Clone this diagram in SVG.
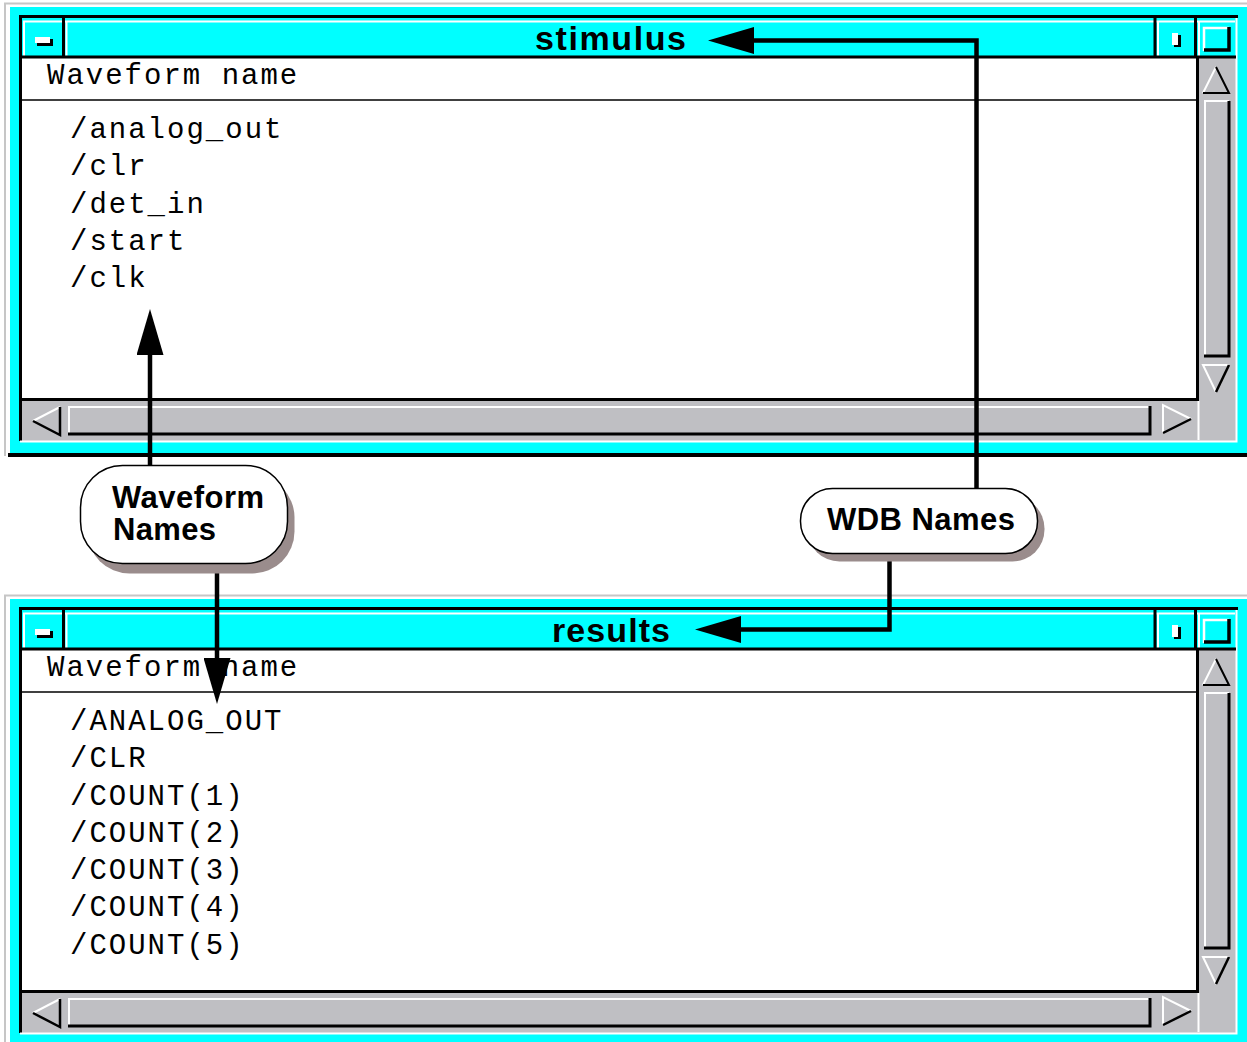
<svg xmlns="http://www.w3.org/2000/svg" xmlns:xlink="http://www.w3.org/1999/xlink" width="1247" height="1042" viewBox="0 0 1247 1042">
<style>
.mono{font-family:"Liberation Mono","DejaVu Sans Mono",monospace;font-size:29px;letter-spacing:2px;fill:#000}
.ttl{font-family:"Liberation Sans",Arial,sans-serif;font-weight:bold;font-size:34px;fill:#000}
.bub{font-family:"Liberation Sans",Arial,sans-serif;font-weight:bold;font-size:31px;fill:#000}
.blk{stroke:#000;fill:none}
.wht{stroke:#fff;fill:none}
.conn{stroke:#000;stroke-width:4.5;fill:none;marker-end:url(#arr)}
</style>
<defs>
<marker id="arr" markerUnits="userSpaceOnUse" viewBox="0 0 46 27" markerWidth="46" markerHeight="27" refX="0" refY="13.5" orient="auto">
<path d="M0,0 L46,13.5 L0,27 z" fill="#000"/>
</marker>
<g id="chrome">
<path d="M5,456 V3.5 H1247" fill="none" stroke="#c6c6c6" stroke-width="2"/>
<rect x="10" y="7" width="1237" height="447" fill="#00ffff"/>
<rect x="8" y="453" width="1239" height="4" fill="#000"/>
<rect x="22" y="58" width="1176" height="342" fill="#fff"/>
<rect x="1198" y="58" width="38" height="383" fill="#bfbfc3"/>
<rect x="22" y="400" width="1214" height="41" fill="#bfbfc3"/>
<path class="blk" d="M20.5,441 V16.5 H1238" stroke-width="3"/>
<path class="wht" d="M20,441.5 H1236.5 V18" stroke-width="2"/>
<path class="wht" d="M23,21.5 H1235 M24,21 V56 M66.5,21 V56 M1158,21 V56 M1199,21 V56" stroke-width="2"/>
<path class="blk" d="M63.5,18 V58 M1155,18 V58 M1195.5,18 V58 M22,57 H1236" stroke-width="3"/>
<rect x="37" y="39" width="16" height="7" fill="#000"/>
<rect x="35" y="37" width="15" height="6" fill="#fff"/>
<rect x="1174" y="35" width="7" height="12" fill="#000"/>
<rect x="1172" y="33" width="6" height="12" fill="#fff"/>
<path class="wht" d="M1204,51 V28 H1229" stroke-width="2.5"/>
<path class="blk" d="M1229,27 V50 H1204" stroke-width="3.5"/>
<path class="blk" d="M22,100 H1197" stroke-width="1.5"/>
<path class="blk" d="M1197.5,58 V401 M20,399.5 H1199" stroke-width="3"/>
<path class="wht" d="M1198.5,401 V440" stroke-width="2"/>
<path class="wht" d="M1203,93 L1216,67" stroke-width="2"/>
<path class="blk" d="M1216,67 L1229,93 H1203" stroke-width="2"/>
<path class="wht" d="M1205,356 V101 H1229" stroke-width="2"/>
<path class="blk" d="M1229,101 V356 H1204" stroke-width="3"/>
<path class="wht" d="M1216,392 L1203,365 H1229" stroke-width="2"/>
<path class="blk" d="M1229,365 L1216,392" stroke-width="2.5"/>
<path class="wht" d="M33,421 L60,407" stroke-width="2"/>
<path class="blk" d="M33,421 L60,435 V407" stroke-width="2.5"/>
<path class="wht" d="M69,434 V407 H1150" stroke-width="2"/>
<path class="blk" d="M1150,406 V434 H68" stroke-width="3"/>
<path class="wht" d="M1163,433 V405 L1191,419" stroke-width="2"/>
<path class="blk" d="M1191,419 L1163,433" stroke-width="2.5"/>
</g>
</defs>
<rect width="1247" height="1042" fill="#fff"/>
<g id="win-stimulus">
<use xlink:href="#chrome" href="#chrome"/>
<text class="ttl" x="535" y="50" textLength="151" lengthAdjust="spacing">stimulus</text>
<text class="mono" x="47" y="84">Waveform name</text>
<text class="mono" x="70" y="138">/analog_out</text>
<text class="mono" x="70" y="175.25">/clr</text>
<text class="mono" x="70" y="212.5">/det_in</text>
<text class="mono" x="70" y="249.75">/start</text>
<text class="mono" x="70" y="287">/clk</text>
</g>
<g id="win-results">
<use xlink:href="#chrome" href="#chrome" transform="translate(0,592)"/>
<text class="ttl" x="552" y="642" textLength="118" lengthAdjust="spacing">results</text>
<text class="mono" x="47" y="676">Waveform name</text>
<text class="mono" x="70" y="730">/ANALOG_OUT</text>
<text class="mono" x="70" y="767.25">/CLR</text>
<text class="mono" x="70" y="804.5">/COUNT(1)</text>
<text class="mono" x="70" y="841.75">/COUNT(2)</text>
<text class="mono" x="70" y="879">/COUNT(3)</text>
<text class="mono" x="70" y="916.25">/COUNT(4)</text>
<text class="mono" x="70" y="953.5">/COUNT(5)</text>
</g>
<g id="connectors">
<path class="conn" d="M150,466 V355"/>
<path class="conn" d="M217,564 V658"/>
<path class="conn" d="M976.5,489 V40.5 H754"/>
<path class="conn" d="M889.5,553 V629.5 H741"/>
</g>
<g id="bubble-waveform">
<rect x="87.5" y="475.5" width="207" height="98" rx="42" fill="#9a8c8c"/>
<rect x="80.5" y="465.5" width="207" height="98" rx="42" fill="#fff" stroke="#000" stroke-width="1.5"/>
<text class="bub" x="112" y="508" textLength="152" lengthAdjust="spacing">Waveform</text>
<text class="bub" x="113" y="540" textLength="103" lengthAdjust="spacing">Names</text>
</g>
<g id="bubble-wdb">
<rect x="807.5" y="496.5" width="237" height="65" rx="32" fill="#9a8c8c"/>
<rect x="800.5" y="488.5" width="237" height="65" rx="32" fill="#fff" stroke="#000" stroke-width="1.5"/>
<text class="bub" x="827" y="530" textLength="188" lengthAdjust="spacing">WDB Names</text>
</g>
</svg>
